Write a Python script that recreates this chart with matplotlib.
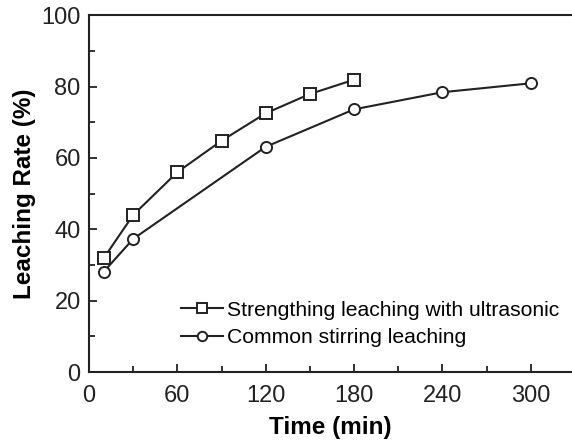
import matplotlib
matplotlib.use("Agg")
import matplotlib.pyplot as plt
from matplotlib.ticker import MultipleLocator

plt.rcParams['font.family'] = ['Liberation Sans', 'DejaVu Sans']

t_ultra = [10, 30, 60, 90, 120, 150, 180]
rate_ultra = [31.9, 44.0, 56.0, 64.8, 72.5, 77.9, 81.9]
t_stir = [10, 30, 120, 180, 240, 300]
rate_stir = [28.1, 37.3, 63.1, 73.6, 78.4, 80.9]
label_ultra = "Strengthing leaching with ultrasonic"
label_stir = "Common stirring leaching"

fig = plt.figure(figsize=(5.72, 4.45), dpi=100)
ax = fig.add_axes([0.1556, 0.164, 0.8444, 0.802])

ax.plot(t_ultra, rate_ultra, '-s', color='#222222', mfc='white', mec='#222222',
        ms=8, mew=1.4, lw=1.5, label=label_ultra)
ax.plot(t_stir, rate_stir, '-o', color='#222222', mfc='white', mec='#222222',
        ms=8, mew=1.4, lw=1.5, label=label_stir)

ax.set_xlim(0, 328)
ax.set_ylim(0, 100)
ax.xaxis.set_major_locator(MultipleLocator(60))
ax.xaxis.set_minor_locator(MultipleLocator(30))
ax.yaxis.set_major_locator(MultipleLocator(20))
ax.yaxis.set_minor_locator(MultipleLocator(10))
ax.tick_params(which='both', direction='in', labelsize=17, width=1.3, colors='#222222')
ax.tick_params(which='major', length=6)
ax.tick_params(which='minor', length=4)
ax.tick_params(axis='x', which='major', pad=9)
ax.tick_params(axis='y', which='major', pad=6)
ax.spines['right'].set_visible(False)
for s in ax.spines.values():
    s.set_linewidth(1.5)
    s.set_color('#222222')

ax.set_xlabel('Time (min)', fontsize=17.5, fontweight='bold', labelpad=7)
ax.set_ylabel('Leaching Rate (%)', fontsize=17.5, fontweight='bold', labelpad=4)

leg = ax.legend(loc='lower left', bbox_to_anchor=(0.19, 0.07), frameon=False,
                fontsize=15.2, handlelength=2.0, handletextpad=0.2, labelspacing=0.4,
                borderpad=0, borderaxespad=0, markerscale=0.85)

fig.savefig('out.png', dpi=100)
